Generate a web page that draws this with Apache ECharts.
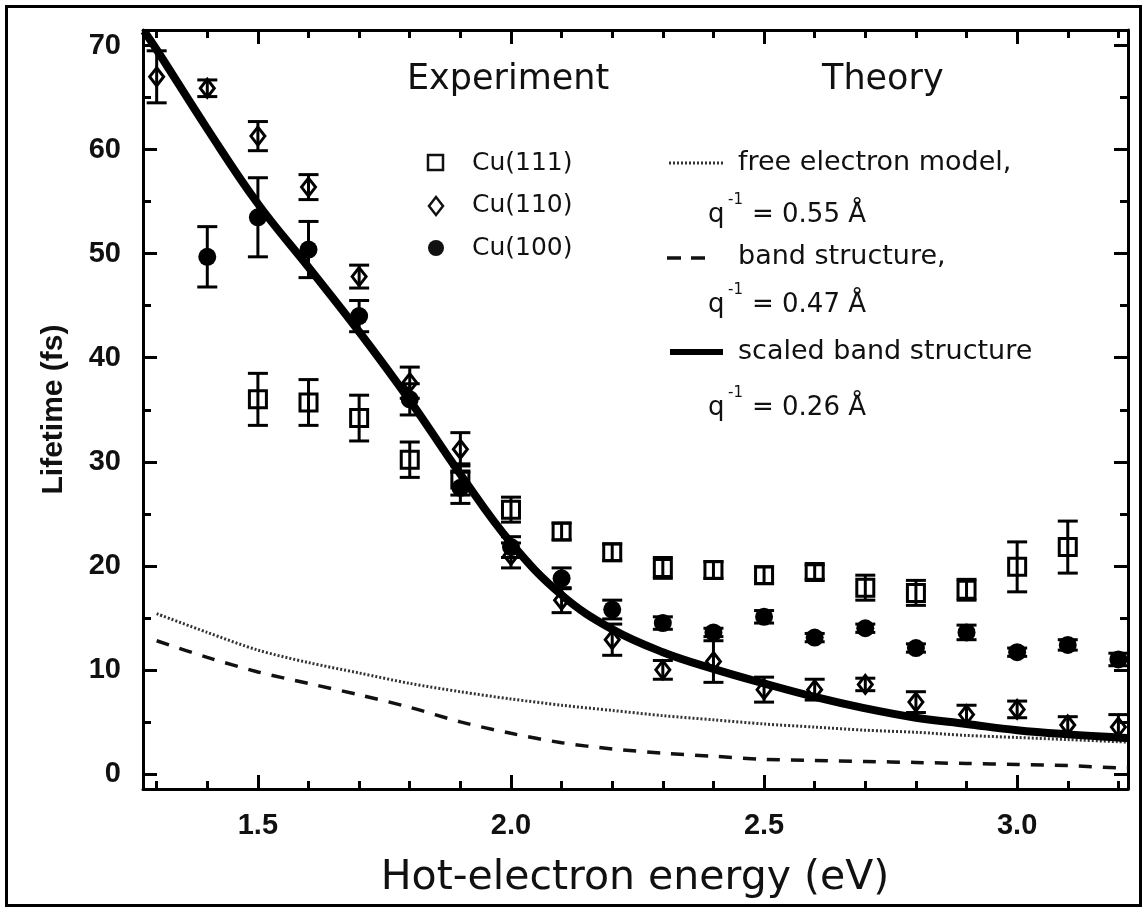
<!DOCTYPE html>
<html>
<head>
<meta charset="utf-8">
<script src="https://cdn.jsdelivr.net/npm/echarts@6/dist/echarts.min.js"></script>
<style>html,body{margin:0;padding:0;background:#fff}#c{width:1143px;height:909px}</style>
</head>
<body>
<div id="c"></div>
<script>
// ---- data ----
const e111 = [1.5,1.6,1.7,1.8,1.9,2.0,2.1,2.2,2.3,2.4,2.5,2.6,2.7,2.8,2.9,3.0,3.1];
const cu111 = [36.0,35.7,34.2,30.2,28.3,25.4,23.3,21.3,19.8,19.6,19.1,19.4,17.9,17.4,17.7,19.9,21.8];
const err111 = [2.5,2.2,2.2,1.7,1.5,1.2,0.8,0.8,1.0,0.8,0.8,0.7,1.2,1.2,1.0,2.4,2.5];

const e110 = [1.3,1.4,1.5,1.6,1.7,1.8,1.9,2.0,2.1,2.2,2.3,2.4,2.5,2.6,2.7,2.8,2.9,3.0,3.1,3.2];
const cu110 = [67.0,65.9,61.3,56.4,47.8,37.6,31.2,21.0,16.7,12.9,10.0,10.8,8.1,8.1,8.6,6.9,5.7,6.2,4.7,4.5];
const err110 = [2.5,0.8,1.4,1.2,1.1,1.5,1.6,1.2,1.2,1.5,0.9,2.0,1.2,1.0,0.6,1.0,0.9,0.8,0.8,1.2];

const e100 = [1.4,1.5,1.6,1.7,1.8,1.9,2.0,2.1,2.2,2.3,2.4,2.5,2.6,2.7,2.8,2.9,3.0,3.1,3.2];
const cu100 = [49.7,53.5,50.4,44.0,36.0,27.5,21.8,18.8,15.8,14.5,13.6,15.1,13.1,14.0,12.1,13.6,11.7,12.4,11.0];
const err100 = [2.9,3.8,2.7,1.5,1.5,1.5,1.0,1.0,0.9,0.6,0.4,0.6,0.4,0.4,0.4,0.7,0.4,0.5,0.6];

const eFree = [1.3,1.4,1.5,1.6,1.7,1.8,1.9,2.0,2.1,2.2,2.3,2.4,2.5,2.6,2.7,2.8,2.9,3.0,3.1,3.2,3.219];
const freeModel = [15.4,13.6,11.9,10.7,9.7,8.7,7.9,7.2,6.6,6.1,5.6,5.2,4.8,4.5,4.2,4.0,3.7,3.5,3.3,3.1,3.05];

const eBand = [1.3,1.4,1.5,1.6,1.7,1.8,1.9,2.0,2.1,2.2,2.3,2.4,2.5,2.6,2.7,2.8,2.9,3.0,3.1,3.2,3.219];
const bandModel = [12.8,11.2,9.8,8.7,7.6,6.4,5.0,3.9,3.0,2.4,2.0,1.7,1.4,1.3,1.2,1.1,1.0,0.9,0.8,0.6,0.6];

const eScaled = [1.275,1.3,1.4,1.5,1.6,1.7,1.8,1.9,2.0,2.1,2.2,2.3,2.4,2.5,2.6,2.7,2.8,2.9,3.0,3.1,3.2,3.219];
const scaledModel = [71.4,69.6,62.0,54.8,48.7,42.5,35.9,28.8,22.2,17.2,13.9,11.7,10.1,8.7,7.4,6.3,5.4,4.8,4.2,3.8,3.5,3.45];

const xMajor = [1.5,2.0,2.5,3.0];
const xMinor = [1.3,1.4,1.6,1.7,1.8,1.9,2.1,2.2,2.3,2.4,2.6,2.7,2.8,2.9,3.1,3.2];
const yMajor = [0,10,20,30,40,50,60,70];
const yMinor = [5,15,25,35,45,55,65];

const X_MIN = 1.273, X_MAX = 3.219, Y_MIN = -1.45, Y_MAX = 71.5;
const FONT = '"Liberation Sans", Arial, Helvetica, sans-serif';
const WFONT = '"DejaVu Sans", "Liberation Sans", sans-serif';

function zip(xs, ys, es) { return xs.map((x,i) => es ? [x, ys[i], es[i]] : [x, ys[i]]); }

function errRender(params, api) {
  const x = api.value(0), y = api.value(1), e = api.value(2);
  const top = api.coord([x, y + e]);
  const bot = api.coord([x, y - e]);
  const hw = 10;
  const st = {stroke: '#000', lineWidth: 3};
  return {type: 'group', children: [
    {type: 'line', shape: {x1: top[0], y1: top[1], x2: bot[0], y2: bot[1]}, style: st},
    {type: 'line', shape: {x1: top[0]-hw, y1: top[1], x2: top[0]+hw, y2: top[1]}, style: st},
    {type: 'line', shape: {x1: bot[0]-hw, y1: bot[1], x2: bot[0]+hw, y2: bot[1]}, style: st}
  ]};
}

function xAxisDef(pos, values, len, showLine, labels) {
  return {
    type: 'value', position: pos, min: X_MIN, max: X_MAX,
    axisLine: {show: showLine, onZero: false, lineStyle: {color: '#000', width: 3}},
    axisTick: {show: true, inside: true, length: len, customValues: values, lineStyle: {color: '#000', width: 3}},
    axisLabel: labels ? {show: true, customValues: xMajor, formatter: v => v.toFixed(1), color: '#111',
      fontSize: 29, fontWeight: 'bold', fontFamily: FONT, margin: 22} : {show: false},
    splitLine: {show: false}
  };
}
function yAxisDef(pos, values, len, showLine, labels) {
  return {
    type: 'value', position: pos, min: Y_MIN, max: Y_MAX,
    axisLine: {show: showLine, onZero: false, lineStyle: {color: '#000', width: 3}},
    axisTick: {show: true, inside: true, length: len, customValues: values, lineStyle: {color: '#000', width: 3}},
    axisLabel: labels ? {show: true, customValues: yMajor, color: '#111',
      fontSize: 29, fontWeight: 'bold', fontFamily: FONT, margin: 22} : {show: false},
    splitLine: {show: false}
  };
}

const chart = echarts.init(document.getElementById('c'), null, {renderer: 'canvas'});

const txt = (x, y, text, size, align, font) => ({
  type: 'text', x: x, y: y,
  style: {text: text, font: `${size}px ${font || WFONT}`, fill: '#111', align: align || 'left', verticalAlign: 'middle'}
});

const qText = (x, y, val) => [
  txt(x, y, 'q', 26),
  txt(x + 20, y - 15, '-1', 15),
  txt(x + 44, y, '= ' + val + ' Å', 26)
];

const option = {
  backgroundColor: '#fff',
  animation: false,
  grid: {left: 143, right: 15, top: 30, bottom: 120, containLabel: false},
  xAxis: [
    xAxisDef('bottom', xMajor, 14, true, true),
    xAxisDef('bottom', xMinor, 8, false, false),
    xAxisDef('top', xMajor, 14, true, false),
    xAxisDef('top', xMinor, 8, false, false)
  ],
  yAxis: [
    Object.assign(yAxisDef('left', yMajor, 14, true, true), {
      name: 'Lifetime (fs)', nameLocation: 'middle', nameGap: 74,
      nameTextStyle: {fontSize: 30, fontWeight: 'bold', color: '#111', fontFamily: FONT}
    }),
    yAxisDef('left', yMinor, 8, false, false),
    yAxisDef('right', yMajor, 14, true, false),
    yAxisDef('right', yMinor, 8, false, false)
  ],
  series: [
    {type: 'line', name: 'free electron model', data: zip(eFree, freeModel), smooth: 0.3, showSymbol: false,
      lineStyle: {color: '#333', width: 3, type: [2, 2]}, z: 2},
    {type: 'line', name: 'band structure', data: zip(eBand, bandModel), smooth: 0.3, showSymbol: false,
      lineStyle: {color: '#111', width: 3.5, type: [13, 11]}, z: 2},
    {type: 'line', name: 'scaled band structure', data: zip(eScaled, scaledModel), smooth: 0.4, showSymbol: false,
      lineStyle: {color: '#000', width: 8}, z: 3},
    {type: 'custom', name: 'err111', renderItem: errRender, data: zip(e111, cu111, err111), encode: {x: 0, y: 1}, z: 4},
    {type: 'custom', name: 'err110', renderItem: errRender, data: zip(e110, cu110, err110), encode: {x: 0, y: 1}, z: 4},
    {type: 'custom', name: 'err100', renderItem: errRender, data: zip(e100, cu100, err100), encode: {x: 0, y: 1}, z: 4},
    {type: 'scatter', name: 'Cu(111)', data: zip(e111, cu111), symbol: 'rect', symbolSize: [17, 17],
      itemStyle: {color: 'rgba(0,0,0,0)', borderColor: '#000', borderWidth: 3, opacity: 1}, z: 5},
    {type: 'scatter', name: 'Cu(110)', data: zip(e110, cu110), symbol: 'diamond', symbolSize: [14, 18],
      itemStyle: {color: 'rgba(0,0,0,0)', borderColor: '#000', borderWidth: 3, opacity: 1}, z: 5},
    {type: 'scatter', name: 'Cu(100)', data: zip(e100, cu100), symbol: 'circle', symbolSize: 18,
      itemStyle: {color: '#000', opacity: 1}, z: 5}
  ],
  graphic: [
    {type: 'rect', left: 4, top: 4, shape: {width: 1134, height: 899}, style: {fill: 'none', stroke: '#000', lineWidth: 3}, z: 100},
    txt(407, 80, 'Experiment', 35),
    txt(822, 80, 'Theory', 35),
    {type: 'rect', x: 428, y: 155, shape: {width: 15, height: 15}, style: {fill: 'none', stroke: '#111', lineWidth: 2.5}},
    {type: 'polygon', shape: {points: [[436,197],[443,206],[436,215],[429,206]]}, style: {fill: 'none', stroke: '#111', lineWidth: 2.5}},
    {type: 'circle', shape: {cx: 436, cy: 248, r: 8}, style: {fill: '#111'}},
    txt(472, 163, 'Cu(111)', 25),
    txt(472, 205, 'Cu(110)', 25),
    txt(472, 248, 'Cu(100)', 25),
    {type: 'line', shape: {x1: 669, y1: 163, x2: 723, y2: 163}, style: {stroke: '#333', lineWidth: 3, lineDash: [2, 2]}},
    txt(738, 163, 'free electron model,', 27),
    ...qText(708, 215, '0.55'),
    {type: 'line', shape: {x1: 667, y1: 258, x2: 681, y2: 258}, style: {stroke: '#111', lineWidth: 3.5}},
    {type: 'line', shape: {x1: 691, y1: 258, x2: 705, y2: 258}, style: {stroke: '#111', lineWidth: 3.5}},
    txt(738, 257, 'band structure,', 27),
    ...qText(708, 305, '0.47'),
    {type: 'line', shape: {x1: 670, y1: 352, x2: 723, y2: 352}, style: {stroke: '#000', lineWidth: 6}},
    txt(738, 352, 'scaled band structure', 27),
    ...qText(708, 408, '0.26'),
    txt(635, 878, 'Hot-electron energy (eV)', 41, 'center')
  ]
};
chart.setOption(option);
</script>
</body>
</html>
